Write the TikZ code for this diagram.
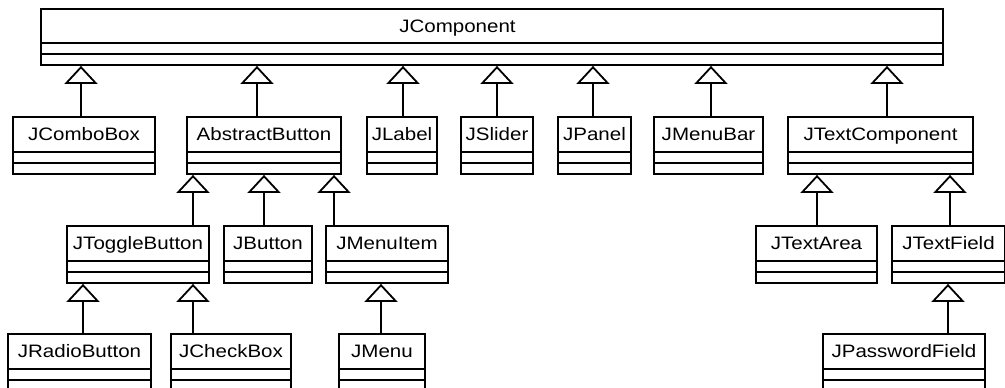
\documentclass[tikz,border=0pt]{standalone}
\usepackage{fontspec}
\setmainfont{Liberation Sans}[FakeStretch=1.14]
\usepackage{tikz}
\usetikzlibrary{arrows.meta, calc}
\newcommand{\classfont}{\fontsize{18pt}{20pt}\selectfont}
\tikzset{
  classbox/.style={rectangle, draw=black, fill=white, line width=1.8pt,
    inner sep=0pt, text height=23.5pt, text depth=33.5pt, font=\classfont,
    path picture={
      \draw[line width=1.8pt]
        ([yshift=11pt]path picture bounding box.south west) -- ([yshift=11pt]path picture bounding box.south east)
        ([yshift=22pt]path picture bounding box.south west) -- ([yshift=22pt]path picture bounding box.south east);
    }},
  inherit/.style={line width=1.8pt, color=black, -{Triangle[open, length=18pt, width=33pt]}}
}

\begin{document}
\begin{tikzpicture}[x=1pt, y=-1pt]
  \clip (0,0) rectangle (1005,388);

  % Root class
  \node[classbox, minimum width=902pt, text height=23pt, text depth=33pt] (JComp) at (492,37) {JComponent\hspace*{69pt}};

  % Direct subclasses
  \node[classbox, minimum width=142pt] (JCombo) at (84,145.5) {JComboBox};
  \node[classbox, minimum width=154pt] (AbsBtn) at (264,145.5) {AbstractButton};
  \node[classbox, minimum width=70pt] (JLabel) at (402,145.5) {JLabel};
  \node[classbox, minimum width=72pt] (JSlider) at (497,145.5) {JSlider};
  \node[classbox, minimum width=73pt] (JPanel) at (594.5,145.5) {JPanel};
  \node[classbox, minimum width=109pt] (JMenuBar) at (708.5,145.5) {JMenuBar};
  \node[classbox, minimum width=185pt] (JTextComp) at (880.5,145.5) {JTextComponent};

  % Buttons and text widgets
  \node[classbox, minimum width=142pt] (JToggle) at (138,254.5) {JToggleButton};
  \node[classbox, minimum width=88pt] (JButton) at (268,254.5) {JButton};
  \node[classbox, minimum width=122pt] (JMenuItem) at (387,254.5) {JMenuItem};
  \node[classbox, minimum width=121pt] (JTextArea) at (816.5,254.5) {JTextArea};
  \node[classbox, minimum width=113pt] (JTextField) at (948.5,254.5) {JTextField};

  % Leaf classes
  \node[classbox, minimum width=143pt] (JRadio) at (79.5,362.5) {JRadioButton};
  \node[classbox, minimum width=120pt] (JCheck) at (231,362.5) {JCheckBox};
  \node[classbox, minimum width=86pt] (JMenu) at (382,362.5) {JMenu};
  \node[classbox, minimum width=162pt] (JPassword) at (904,362.5) {JPasswordField};

  % Generalisation arrows to JComponent
  \draw[inherit] (JCombo.north -| 81,0) -- (JComp.south -| 81,0);
  \draw[inherit] (AbsBtn.north -| 257,0) -- (JComp.south -| 257,0);
  \draw[inherit] (JLabel.north -| 403,0) -- (JComp.south -| 403,0);
  \draw[inherit] (JSlider.north -| 497,0) -- (JComp.south -| 497,0);
  \draw[inherit] (JPanel.north -| 593,0) -- (JComp.south -| 593,0);
  \draw[inherit] (JMenuBar.north -| 711,0) -- (JComp.south -| 711,0);
  \draw[inherit] (JTextComp.north -| 887,0) -- (JComp.south -| 887,0);

  % AbstractButton family
  \draw[inherit] (JToggle.north -| 193,0) -- (AbsBtn.south -| 193,0);
  \draw[inherit] (JButton.north -| 264,0) -- (AbsBtn.south -| 264,0);
  \draw[inherit] (JMenuItem.north -| 334,0) -- (AbsBtn.south -| 334,0);
  \draw[inherit] (JRadio.north -| 83,0) -- (JToggle.south -| 83,0);
  \draw[inherit] (JCheck.north -| 193,0) -- (JToggle.south -| 193,0);
  \draw[inherit] (JMenu.north -| 381,0) -- (JMenuItem.south -| 381,0);

  % Text components
  \draw[inherit] (JTextArea.north -| 817,0) -- (JTextComp.south -| 817,0);
  \draw[inherit] (JTextField.north -| 950,0) -- (JTextComp.south -| 950,0);
  \draw[inherit] (JPassword.north -| 948,0) -- (JTextField.south -| 948,0);
\end{tikzpicture}
\end{document}
